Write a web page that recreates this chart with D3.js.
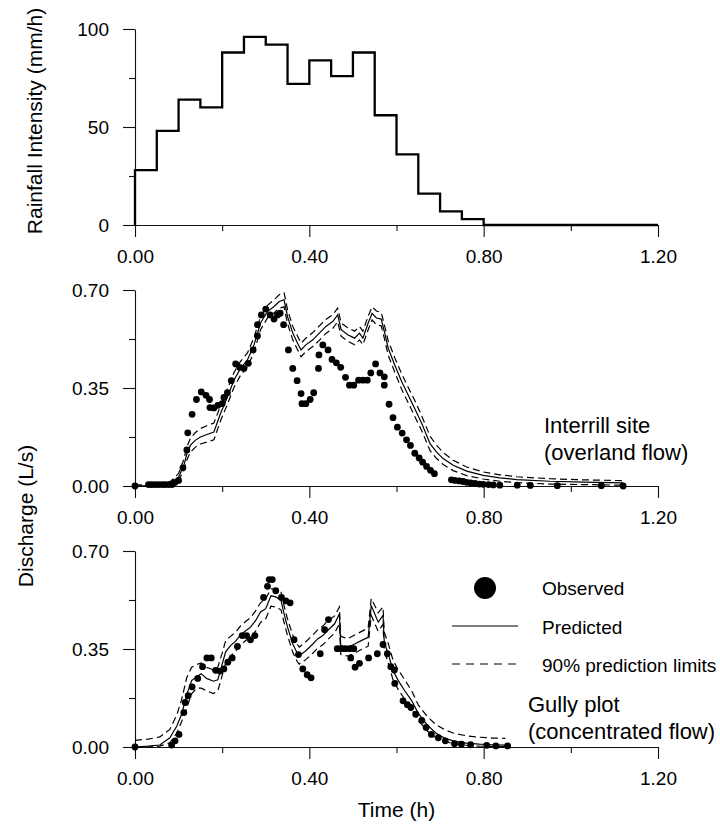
<!DOCTYPE html>
<html><head><meta charset="utf-8">
<script src="https://cdn.jsdelivr.net/npm/d3@7"></script>
<style>
html,body{margin:0;padding:0;background:#fff;}
svg text{font-family:"Liberation Sans",Arial,Helvetica,sans-serif;fill:#000;}
</style></head>
<body>
<svg id="chart" width="720" height="827"></svg>
<script>
// ---------- DATA ----------
const rainStart = [0,0.05,0.10,0.15,0.20,0.25,0.30,0.35,0.40,0.45,0.50,0.55,0.60,0.65,0.70,0.75,0.80];
const rainIntensity = [28,48,64,60,88,96,92,72,84,76,88,56,36,16,7,3,0];

const xTicksMajor = [0,0.4,0.8,1.2];
const xTicksMinor = [0.2,0.6,1.0];
const rainTicksMajor = [0,50,100];
const rainTicksMinor = [25,75];
const qTicksMajor = [0,0.35,0.70];
const qTicksMinor = [0.175,0.525];

// Interrill site (overland flow)
const midObsT = [0,0.031,0.038,0.046,0.054,0.062,0.069,0.077,0.085,0.092,0.1,0.11,0.119,0.121,0.131,0.141,0.152,0.163,0.171,0.172,0.181,0.19,0.2,0.204,0.212,0.221,0.231,0.24,0.25,0.26,0.271,0.281,0.281,0.29,0.3,0.31,0.319,0.327,0.333,0.341,0.352,0.362,0.372,0.381,0.383,0.392,0.402,0.41,0.421,0.422,0.431,0.443,0.452,0.462,0.472,0.483,0.492,0.502,0.513,0.523,0.533,0.541,0.552,0.562,0.572,0.572,0.583,0.592,0.602,0.613,0.623,0.632,0.642,0.652,0.66,0.669,0.678,0.687,0.726,0.734,0.744,0.753,0.761,0.77,0.78,0.79,0.799,0.811,0.822,0.837,0.877,0.907,0.969,1.07,1.12];
const midObsQ = [0,0.005,0.005,0.005,0.005,0.005,0.005,0.005,0.005,0.013,0.02,0.065,0.129,0.19,0.256,0.309,0.336,0.324,0.309,0.28,0.279,0.288,0.294,0.316,0.333,0.376,0.436,0.424,0.42,0.438,0.486,0.536,0.576,0.611,0.632,0.611,0.596,0.611,0.617,0.576,0.486,0.42,0.376,0.33,0.294,0.294,0.309,0.333,0.42,0.468,0.504,0.486,0.452,0.44,0.424,0.388,0.36,0.36,0.378,0.378,0.378,0.404,0.436,0.404,0.39,0.36,0.292,0.244,0.21,0.189,0.165,0.145,0.117,0.1,0.085,0.07,0.056,0.044,0.022,0.02,0.018,0.016,0.013,0.011,0.009,0.007,0.006,0.005,0.004,0.003,0.003,0.002,0.001,0.001,0.0];

const midPredT = [0,0.06,0.08,0.09,0.10,0.112,0.119,0.127,0.138,0.15,0.165,0.181,0.196,0.212,0.227,0.242,0.258,0.273,0.288,0.304,0.319,0.331,0.342,0.35,0.362,0.373,0.381,0.392,0.408,0.423,0.438,0.454,0.465,0.473,0.488,0.504,0.515,0.523,0.535,0.544,0.554,0.565,0.573,0.581,0.596,0.612,0.627,0.642,0.658,0.677,0.692,0.707,0.73,0.761,0.799,0.837,0.876,0.952,1.029,1.12];
const midPred = [0,0.002,0.01,0.02,0.031,0.073,0.115,0.145,0.163,0.175,0.184,0.193,0.258,0.318,0.378,0.42,0.45,0.504,0.582,0.623,0.641,0.659,0.665,0.605,0.546,0.51,0.486,0.504,0.522,0.546,0.57,0.588,0.611,0.558,0.54,0.528,0.546,0.528,0.582,0.617,0.6,0.596,0.546,0.492,0.432,0.372,0.324,0.276,0.223,0.151,0.121,0.098,0.074,0.053,0.038,0.029,0.023,0.017,0.014,0.011];
const midUpper = [0.003,0.006,0.015,0.028,0.045,0.095,0.14,0.17,0.19,0.205,0.215,0.225,0.285,0.345,0.405,0.445,0.475,0.53,0.605,0.645,0.665,0.683,0.69,0.63,0.57,0.535,0.51,0.528,0.548,0.572,0.595,0.612,0.635,0.582,0.565,0.553,0.57,0.553,0.607,0.64,0.625,0.62,0.57,0.518,0.458,0.4,0.352,0.305,0.25,0.178,0.145,0.12,0.092,0.068,0.05,0.04,0.033,0.026,0.022,0.019];
const midLower = [0,0,0.005,0.012,0.02,0.055,0.093,0.12,0.138,0.15,0.157,0.165,0.232,0.292,0.352,0.395,0.425,0.478,0.558,0.6,0.618,0.635,0.64,0.58,0.522,0.487,0.462,0.48,0.498,0.52,0.545,0.563,0.587,0.535,0.517,0.504,0.522,0.505,0.558,0.593,0.576,0.572,0.522,0.467,0.407,0.345,0.297,0.248,0.197,0.126,0.098,0.077,0.055,0.037,0.025,0.017,0.012,0.007,0.005,0.003];

// Gully plot (concentrated flow)
const botObsT = [0,0.084,0.092,0.101,0.112,0.115,0.122,0.131,0.144,0.155,0.165,0.175,0.185,0.195,0.204,0.213,0.223,0.235,0.246,0.256,0.265,0.275,0.295,0.304,0.308,0.315,0.323,0.336,0.346,0.356,0.365,0.375,0.385,0.395,0.404,0.425,0.435,0.444,0.464,0.473,0.482,0.492,0.502,0.495,0.505,0.515,0.536,0.556,0.569,0.579,0.587,0.595,0.596,0.615,0.625,0.633,0.644,0.658,0.668,0.68,0.696,0.712,0.733,0.749,0.77,0.807,0.828,0.855];
const botObsQ = [0,0.007,0.022,0.045,0.123,0.159,0.183,0.215,0.245,0.287,0.318,0.318,0.274,0.271,0.279,0.303,0.318,0.359,0.398,0.398,0.383,0.398,0.534,0.574,0.598,0.598,0.558,0.534,0.522,0.515,0.383,0.33,0.279,0.258,0.247,0.333,0.419,0.455,0.351,0.351,0.351,0.351,0.351,0.318,0.285,0.299,0.318,0.333,0.366,0.333,0.287,0.275,0.227,0.165,0.151,0.141,0.117,0.095,0.07,0.045,0.033,0.022,0.012,0.01,0.008,0.006,0.004,0.004];

const botPredT = [0,0.03,0.057,0.08,0.096,0.107,0.119,0.13,0.141,0.152,0.164,0.18,0.19,0.2,0.208,0.219,0.231,0.242,0.254,0.265,0.277,0.288,0.3,0.312,0.323,0.335,0.342,0.35,0.362,0.373,0.377,0.392,0.408,0.419,0.431,0.442,0.458,0.469,0.472,0.488,0.504,0.519,0.535,0.542,0.558,0.569,0.572,0.581,0.592,0.604,0.619,0.635,0.65,0.67,0.69,0.71,0.73,0.76,0.79,0.82,0.85];
const botPred = [0,0.003,0.007,0.033,0.075,0.117,0.189,0.237,0.251,0.262,0.245,0.235,0.24,0.296,0.34,0.362,0.378,0.4,0.415,0.428,0.452,0.482,0.494,0.54,0.536,0.524,0.476,0.428,0.368,0.333,0.326,0.344,0.368,0.386,0.398,0.416,0.44,0.476,0.362,0.356,0.368,0.38,0.392,0.505,0.446,0.47,0.374,0.333,0.273,0.237,0.201,0.165,0.12,0.08,0.05,0.032,0.022,0.014,0.01,0.008,0.007];
const botUpper = [0.024,0.028,0.036,0.063,0.115,0.17,0.249,0.285,0.294,0.3,0.285,0.275,0.285,0.335,0.38,0.395,0.41,0.432,0.448,0.462,0.487,0.515,0.53,0.565,0.565,0.553,0.505,0.457,0.4,0.365,0.357,0.376,0.4,0.418,0.432,0.45,0.468,0.5,0.395,0.387,0.4,0.412,0.425,0.53,0.48,0.5,0.41,0.37,0.31,0.275,0.24,0.2,0.15,0.11,0.08,0.062,0.05,0.04,0.035,0.032,0.031];
const botLower = [0,0,0.003,0.015,0.05,0.09,0.141,0.19,0.21,0.21,0.201,0.191,0.2,0.255,0.3,0.325,0.342,0.365,0.38,0.392,0.415,0.445,0.458,0.503,0.5,0.49,0.445,0.398,0.338,0.303,0.296,0.312,0.335,0.353,0.365,0.383,0.407,0.44,0.33,0.325,0.335,0.348,0.36,0.47,0.413,0.438,0.343,0.3,0.24,0.205,0.17,0.135,0.095,0.058,0.033,0.02,0.012,0.006,0.003,0.002,0.001];

// ---------- DRAW ----------
const svg = d3.select("#chart");
const X0 = 135, X1 = 658;
const x = d3.scaleLinear().domain([0,1.2]).range([X0,X1]);
const panels = [
  {top:29, bottom:225},
  {top:290, bottom:486},
  {top:551, bottom:747}
];
const yRain = d3.scaleLinear().domain([0,100]).range([panels[0].bottom,panels[0].top]);
const yMid = d3.scaleLinear().domain([0,0.7]).range([panels[1].bottom,panels[1].top]);
const yBot = d3.scaleLinear().domain([0,0.7]).range([panels[2].bottom,panels[2].top]);

function drawAxes(y, major, minor, fmt, bottom){
  const gx = svg.append("g").attr("transform",`translate(0,${bottom})`);
  gx.call(d3.axisBottom(x).tickValues(xTicksMajor).tickSize(12).tickSizeOuter(0).tickPadding(13).tickFormat(d3.format(".2f")));
  gx.append("g").call(d3.axisBottom(x).tickValues(xTicksMinor).tickSize(6).tickSizeOuter(0).tickFormat(""))
    .select(".domain").remove();
  const gy = svg.append("g").attr("transform",`translate(${X0},0)`);
  gy.call(d3.axisLeft(y).tickValues(major).tickSize(12).tickSizeOuter(0).tickPadding(14).tickFormat(fmt));
  gy.append("g").call(d3.axisLeft(y).tickValues(minor).tickSize(6).tickSizeOuter(0).tickFormat(""))
    .select(".domain").remove();
  svg.selectAll(".tick text").attr("font-size",19).attr("font-family",'"Liberation Sans",Arial,sans-serif');
  svg.selectAll(".domain, .tick line").attr("stroke","#111").attr("stroke-width",1.1);
}
drawAxes(yRain, rainTicksMajor, rainTicksMinor, d3.format("d"), panels[0].bottom);
drawAxes(yMid, qTicksMajor, qTicksMinor, d3.format(".2f"), panels[1].bottom);
drawAxes(yBot, qTicksMajor, qTicksMinor, d3.format(".2f"), panels[2].bottom);

// Rainfall hyetograph
const rainPts = [{t:0,v:0}].concat(rainStart.map((t,i)=>({t, v:rainIntensity[i]}))).concat([{t:1.2,v:0}]);
svg.append("path").datum(rainPts)
  .attr("d", d3.line().x(d=>x(d.t)).y(d=>yRain(d.v)).curve(d3.curveStepAfter))
  .attr("fill","none").attr("stroke","#000").attr("stroke-width",2.3);

function drawFlow(y, predT, pred, up, lo, obsT, obsQ){
  const line = d3.line().x(d=>x(d[0])).y(d=>y(d[1]));
  [up, lo].forEach(arr=>{
    svg.append("path").datum(predT.map((t,i)=>[t,arr[i]]))
      .attr("d",line).attr("fill","none").attr("stroke","#000")
      .attr("stroke-width",1.2).attr("stroke-dasharray","7,4");
  });
  svg.append("path").datum(predT.map((t,i)=>[t,pred[i]]))
    .attr("d",line).attr("fill","none").attr("stroke","#000").attr("stroke-width",1.2);
  svg.append("g").selectAll("circle").data(obsT.map((t,i)=>[t,obsQ[i]])).join("circle")
    .attr("cx",d=>x(d[0])).attr("cy",d=>y(d[1])).attr("r",3.4).attr("fill","#000");
}
drawFlow(yMid, midPredT, midPred, midUpper, midLower, midObsT, midObsQ);
drawFlow(yBot, botPredT, botPred, botUpper, botLower, botObsT, botObsQ);

// Axis titles
svg.append("text").attr("transform","translate(42,121) rotate(-90)")
  .attr("text-anchor","middle").attr("font-size",21).text("Rainfall Intensity (mm/h)");
svg.append("text").attr("transform","translate(33,516) rotate(-90)")
  .attr("text-anchor","middle").attr("font-size",21).text("Discharge (L/s)");
svg.append("text").attr("x",(X0+X1)/2).attr("y",817)
  .attr("text-anchor","middle").attr("font-size",21).text("Time (h)");

// Panel labels
svg.append("text").attr("x",544).attr("y",433).attr("font-size",22).text("Interrill site");
svg.append("text").attr("x",544).attr("y",460).attr("font-size",22).text("(overland flow)");
svg.append("text").attr("x",528).attr("y",712).attr("font-size",22).text("Gully plot");
svg.append("text").attr("x",528).attr("y",739).attr("font-size",22).text("(concentrated flow)");

// Legend
const lg = svg.append("g");
lg.append("circle").attr("cx",485).attr("cy",588).attr("r",11).attr("fill","#000");
lg.append("line").attr("x1",452).attr("x2",518).attr("y1",626).attr("y2",626)
  .attr("stroke","#000").attr("stroke-width",1.2);
lg.append("line").attr("x1",452).attr("x2",518).attr("y1",664).attr("y2",664)
  .attr("stroke","#000").attr("stroke-width",1.2).attr("stroke-dasharray","8,6");
const legText = ["Observed","Predicted","90% prediction limits"];
const legY = [595,634,672];
legText.forEach((s,i)=>lg.append("text").attr("x",542).attr("y",legY[i]).attr("font-size",19).text(s));
</script>
</body></html>
